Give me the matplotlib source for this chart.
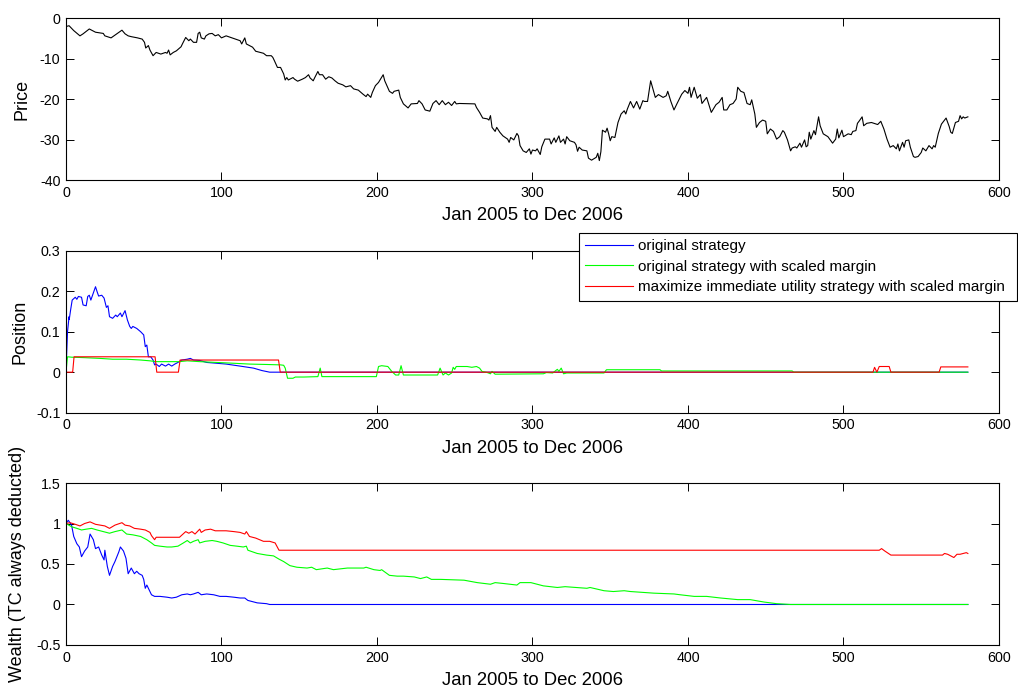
import matplotlib
matplotlib.use("Agg")
import matplotlib.pyplot as plt

plt.rcParams['font.family'] = ['Liberation Sans', 'DejaVu Sans']

# x axis: trading days
x_ticks = [0, 100, 200, 300, 400, 500, 600]
x_label = 'Jan 2005 to Dec 2006'

# --- Price panel ---
price_x = [0, 2, 5, 9, 11, 15, 19, 24, 25, 29, 32, 36, 38, 40, 42, 46, 49, 50.5, 51.3, 53,
           54, 56, 58, 61, 64, 65, 66, 67, 69, 71, 74, 75, 77, 79, 80, 82, 84, 85, 86, 87,
           89, 90, 92, 94, 96, 98, 100, 103, 106, 109, 112, 113, 115, 116, 118, 120, 122, 125, 127, 129,
           132, 133, 134, 136, 138, 139, 140, 141, 142, 143, 146, 147, 149, 152, 154, 156, 157, 159, 160, 162,
           163, 165, 167, 169, 171, 173, 175, 178, 180, 183, 185, 188, 191, 193, 194, 196, 197, 199, 201, 204,
           205, 208, 210, 211, 214, 215, 217, 220, 222, 226, 227, 229, 231, 234, 236, 238, 240, 242, 244, 246,
           248, 250, 251, 253, 263, 264, 266, 268, 271, 272, 273, 274, 276, 277, 279, 281, 284, 285, 286, 288,
           290, 291, 292, 294, 296, 298, 299, 300, 302, 303, 305, 306, 308, 311, 312, 314, 315, 317, 318, 320,
           321, 322, 324, 327, 328, 329, 330, 332, 335, 336, 338, 341, 342, 343, 344, 345, 347, 348, 349, 350,
           351, 353, 355, 357, 359, 360, 361, 363, 365, 367, 369, 371, 372, 374, 375, 376, 379, 381, 384, 386,
           387, 389, 391, 393, 396, 398, 400, 401, 402, 404, 406, 408, 409, 412, 415, 418, 420, 422, 423, 425,
           427, 429, 431, 432, 434, 436, 438, 440, 441, 443, 444, 446, 448, 450, 451, 453, 455, 457, 459, 461,
           462, 464, 466, 467, 469, 470, 472, 473, 475, 476, 477, 478, 479, 481, 482, 484, 485, 487, 490, 493,
           495, 496, 497, 499, 500, 503, 505, 506, 508, 509, 510, 512, 513, 515, 518, 522, 524, 526, 528, 530,
           532, 534, 535, 536, 538, 539, 540, 542, 543, 545, 546, 548, 550, 551, 553, 555, 557, 558, 559, 561,
           563, 565, 566, 568, 569, 570, 572, 574, 575, 576, 577, 578, 580]
price_y = [-2.1, -1.9, -3.1, -4.4, -3.9, -2.7, -3.5, -3.8, -4.4, -4.9, -4.1, -3.0, -3.9, -4.4, -4.6, -4.9, -5.2, -6.0, -7.4, -6.8,
           -7.9, -9.3, -8.5, -8.9, -8.5, -8.7, -7.9, -9.1, -8.5, -8.1, -7.1, -6.3, -4.8, -5.6, -5.2, -6.0, -6.0, -3.8, -3.5, -4.9,
           -5.2, -4.4, -3.9, -3.8, -4.4, -4.1, -4.9, -4.4, -4.8, -5.2, -5.6, -6.4, -4.9, -6.4, -6.8, -7.2, -8.2, -8.5, -8.7, -9.3,
           -9.3, -9.7, -10.5, -12.2, -12.2, -13.0, -13.8, -15.3, -14.7, -15.3, -14.7, -15.1, -15.6, -15.1, -14.7, -14.0, -14.8, -15.5, -14.7, -13.2,
           -14.0, -14.0, -15.1, -14.5, -14.8, -15.5, -16.1, -16.5, -17.0, -16.7, -17.5, -17.8, -18.8, -19.4, -18.8, -19.6, -18.4, -16.7, -15.9, -14.0,
           -15.5, -18.1, -18.6, -18.1, -17.8, -19.6, -21.2, -22.2, -21.2, -21.1, -20.4, -21.2, -22.7, -23.0, -21.1, -20.4, -21.4, -20.4, -21.4, -20.8,
           -21.6, -20.6, -21.2, -21.1, -21.2, -22.1, -23.3, -24.7, -24.9, -25.2, -24.1, -27.0, -28.0, -27.0, -28.2, -29.1, -29.9, -30.7, -29.5, -30.1,
           -28.5, -29.1, -31.5, -32.8, -33.2, -32.3, -33.6, -32.6, -32.8, -32.3, -33.7, -31.8, -29.9, -29.9, -31.1, -29.6, -30.7, -29.1, -30.7, -29.9,
           -31.1, -29.3, -30.3, -30.7, -31.3, -32.9, -31.9, -32.6, -32.8, -34.6, -35.1, -34.4, -33.4, -35.2, -33.0, -27.7, -28.2, -27.2, -28.6, -30.3,
           -29.3, -29.5, -25.8, -23.7, -22.9, -23.7, -22.5, -20.6, -22.2, -20.6, -22.5, -20.4, -20.6, -20.6, -18.0, -15.5, -19.6, -18.9, -19.6, -19.2,
           -18.1, -20.6, -22.7, -21.1, -18.8, -17.9, -18.6, -17.1, -19.6, -17.1, -19.8, -18.9, -21.1, -19.6, -23.3, -21.4, -20.8, -19.6, -22.7, -22.7,
           -21.4, -21.1, -20.0, -17.1, -18.1, -18.4, -21.1, -21.4, -20.2, -23.7, -27.0, -25.8, -25.2, -25.5, -28.6, -27.4, -28.0, -29.9, -29.3, -27.8,
           -28.2, -30.1, -32.8, -32.1, -31.8, -32.1, -30.9, -31.9, -30.1, -31.8, -31.5, -28.2, -29.9, -27.8, -28.8, -24.4, -26.6, -28.6, -29.3, -30.9,
           -29.9, -27.4, -29.6, -27.7, -29.3, -28.6, -28.8, -28.0, -27.8, -26.0, -25.5, -24.4, -26.6, -26.0, -25.8, -26.3, -25.5, -27.4, -29.9, -31.9,
           -31.5, -32.3, -31.1, -32.8, -30.7, -31.9, -30.3, -30.1, -31.9, -34.2, -34.4, -34.2, -33.2, -32.1, -32.8, -31.5, -32.3, -31.5, -31.9, -28.5,
           -26.2, -25.2, -24.7, -26.8, -28.2, -28.5, -25.8, -25.5, -24.1, -24.9, -24.4, -24.7, -24.4]
price_yticks = [-40, -30, -20, -10, 0]

# --- Position panel ---
labels = ['original strategy',
          'original strategy with scaled margin',
          'maximize immediate utility strategy with scaled margin']
colors = ['#0000ff', '#00ff00', '#ff0000']

pos_blue_x = [0, 1, 2, 2.1, 3, 4, 6, 7, 8, 10, 11, 13, 14, 15, 16, 19, 20, 21, 23, 24.5,
              26, 27, 28, 30, 32, 33, 35, 36, 38, 39.5, 41, 42, 43, 45.5, 48, 50, 51, 52, 53, 54.5,
              56, 57, 58, 60, 61.5, 64, 66, 68, 70, 72, 74.5, 78, 80, 82, 86, 90.5, 97, 103, 112, 120.6,
              126, 131, 137, 580]
pos_blue_y = [0, 0.10, 0.137, 0.13, 0.154, 0.178, 0.185, 0.18, 0.187, 0.185, 0.166, 0.164, 0.187, 0.19, 0.178, 0.211, 0.199, 0.188, 0.19, 0.183,
              0.16, 0.164, 0.137, 0.133, 0.141, 0.137, 0.146, 0.137, 0.152, 0.129, 0.113, 0.108, 0.113, 0.108, 0.10, 0.092, 0.063, 0.067, 0.038, 0.038,
              0.03, 0.018, 0.02, 0.014, 0.02, 0.015, 0.02, 0.015, 0.02, 0.024, 0.03, 0.032, 0.034, 0.03, 0.029, 0.024, 0.022, 0.02, 0.015, 0.01,
              0.004, 0.0, 0, 0]

pos_green_x = [0, 1, 3.6, 11, 22, 30, 39, 48, 54, 58, 73, 78, 86, 97, 108, 118, 129, 138, 140, 141,
               142.5, 146, 147.5, 153, 162, 163.5, 164.6, 199.6, 201, 203, 207, 209.5, 212, 214, 215.5, 217, 239, 240.6, 242.5, 244,
               246, 248, 249, 250, 251, 258, 261, 264, 266, 267.5, 271, 273, 274, 276, 307, 309, 313, 316, 317, 318.5,
               320, 322, 346, 347.6, 382, 383, 467, 468, 580]
pos_green_y = [0, 0.038, 0.037, 0.036, 0.034, 0.032, 0.032, 0.03, 0.028, 0.026, 0.026, 0.028, 0.026, 0.024, 0.022, 0.02, 0.019, 0.018, 0.017, 0.01,
               -0.015, -0.015, -0.012, -0.012, -0.011, 0.01, -0.011, -0.011, 0.014, 0.016, 0.014, 0.002, -0.007, -0.007, 0.016, -0.007, -0.007, 0.01, -0.007, -0.002,
               -0.007, -0.002, 0.012, 0.007, 0.014, 0.014, 0.012, 0.014, 0.01, 0.002, -0.001, -0.004, 0.002, -0.005, -0.004, -0.001, -0.002, 0.007, 0.002, 0.01,
               -0.004, -0.002, -0.002, 0.006, 0.006, 0.003, 0.003, 0, 0]

pos_red_x = [0, 4.3, 5.2, 57.3, 58.4, 72.3, 73.4, 136.7, 137.8, 519, 520, 521.5, 523, 529.4, 530.5, 561.5, 562.6, 580]
pos_red_y = [0, 0, 0.038, 0.038, 0, 0, 0.030, 0.030, 0, 0, 0.012, 0, 0.014, 0.014, 0, 0, 0.013, 0.013]
pos_yticks = [-0.1, 0, 0.1, 0.2, 0.3]
pos_yticklabels = ['-0.1', '0', '0.1', '0.2', '0.3']

# --- Wealth panel ---
w_blue_x = [0, 1.5, 3.6, 5, 7, 8.6, 10, 12, 14, 15.5, 17.6, 19, 21, 23, 24.5, 25, 26.6, 28, 30, 31.5,
            34, 35, 37, 38.6, 40, 42, 44, 45.5, 47, 49, 50, 51, 52, 54, 55, 57, 60.5, 65, 68, 71,
            74.5, 78, 80, 82, 85, 87, 90.5, 95, 99, 103, 108, 112, 115, 117, 123, 129, 131, 580]
w_blue_y = [1.0, 1.04, 0.98, 0.84, 0.75, 0.71, 0.59, 0.66, 0.71, 0.87, 0.80, 0.69, 0.71, 0.61, 0.55, 0.67, 0.47, 0.36, 0.47, 0.53,
            0.65, 0.71, 0.66, 0.57, 0.38, 0.45, 0.38, 0.41, 0.38, 0.36, 0.31, 0.20, 0.24, 0.16, 0.12, 0.10, 0.10, 0.09, 0.08, 0.09,
            0.12, 0.13, 0.12, 0.13, 0.15, 0.12, 0.13, 0.12, 0.10, 0.10, 0.09, 0.08, 0.08, 0.05, 0.02, 0.01, 0, 0]

w_green_x = [0, 3.6, 7, 10, 13, 16.5, 20, 24, 28, 31.5, 36, 39, 43, 48, 52, 55, 57, 60.5, 65, 68,
             72, 75.5, 78, 80, 82, 85, 86, 89.5, 94, 97, 101, 105.6, 110, 114, 116, 117, 123, 129, 133.5, 137,
             140, 144, 148.5, 155, 158, 161, 168, 172, 181, 191.5, 193, 198, 202, 203, 208, 213, 217, 224, 228, 232,
             235, 241, 256, 264.5, 273, 276, 281, 290, 292, 299, 307, 316, 321, 335, 337, 346, 352, 359, 363, 378,
             391, 395, 404, 412, 421, 432, 440, 449, 457, 466, 580]
w_green_y = [1.0, 0.96, 0.94, 0.92, 0.93, 0.94, 0.92, 0.90, 0.88, 0.90, 0.92, 0.87, 0.86, 0.84, 0.80, 0.76, 0.73, 0.72, 0.71, 0.71,
             0.72, 0.76, 0.79, 0.76, 0.78, 0.80, 0.76, 0.78, 0.79, 0.78, 0.76, 0.73, 0.72, 0.71, 0.72, 0.67, 0.63, 0.61, 0.60, 0.56,
             0.53, 0.48, 0.46, 0.45, 0.46, 0.43, 0.45, 0.43, 0.45, 0.45, 0.46, 0.43, 0.42, 0.43, 0.36, 0.35, 0.35, 0.34, 0.32, 0.34,
             0.31, 0.31, 0.30, 0.27, 0.25, 0.27, 0.26, 0.24, 0.27, 0.27, 0.23, 0.21, 0.22, 0.20, 0.21, 0.17, 0.16, 0.17, 0.16, 0.14,
             0.13, 0.12, 0.10, 0.10, 0.08, 0.06, 0.06, 0.03, 0.01, 0.0, 0.0]

w_red_x = [0, 2.6, 6, 9, 12, 15.5, 19, 22, 25, 28, 31.5, 36, 38, 41, 44, 48, 51, 54, 55, 57,
           58, 73, 77, 79, 81, 83, 86, 87, 89.5, 93, 96, 100, 103, 108, 112, 115, 116, 118, 122, 127,
           131, 134.5, 137, 523, 524.5, 526.6, 530.5, 563.7, 565, 567, 569, 571, 573, 575, 577, 579, 580]
w_red_y = [1.0, 1.01, 0.99, 0.97, 1.0, 1.02, 0.99, 0.98, 0.97, 0.94, 0.98, 1.01, 0.98, 0.97, 0.94, 0.93, 0.92, 0.89, 0.85, 0.80,
           0.83, 0.83, 0.90, 0.88, 0.90, 0.87, 0.93, 0.89, 0.92, 0.93, 0.91, 0.91, 0.91, 0.90, 0.89, 0.87, 0.90, 0.84, 0.82, 0.78,
           0.78, 0.76, 0.67, 0.67, 0.69, 0.66, 0.61, 0.61, 0.63, 0.62, 0.60, 0.58, 0.62, 0.62, 0.63, 0.64, 0.63]
w_yticks = [-0.5, 0, 0.5, 1, 1.5]
w_yticklabels = ['-0.5', '0', '0.5', '1', '1.5']

fig = plt.figure(figsize=(10.18, 6.91), dpi=100)
ax1 = fig.add_axes([0.0648, 0.7395, 0.9165, 0.2344])
ax2 = fig.add_axes([0.0648, 0.4028, 0.9165, 0.2344])
ax3 = fig.add_axes([0.0648, 0.0666, 0.9165, 0.2344])

lw = 0.8
ax1.plot(price_x, price_y, color='black', lw=lw)
ax1.set_ylim(-40, 0)
ax1.set_yticks(price_yticks)
ax1.set_yticklabels([str(v) for v in price_yticks])
ax1.set_ylabel('Price', fontsize=13)

ax2.plot(pos_blue_x, pos_blue_y, color=colors[0], lw=lw, label=labels[0])
ax2.plot(pos_green_x, pos_green_y, color=colors[1], lw=lw, label=labels[1])
ax2.plot(pos_red_x, pos_red_y, color=colors[2], lw=lw, label=labels[2])
ax2.set_ylim(-0.1, 0.3)
ax2.set_yticks(pos_yticks)
ax2.set_yticklabels(pos_yticklabels)
ax2.set_ylabel('Position', fontsize=13)

ax3.plot(w_blue_x, w_blue_y, color=colors[0], lw=lw)
ax3.plot(w_green_x, w_green_y, color=colors[1], lw=lw)
ax3.plot(w_red_x, w_red_y, color=colors[2], lw=lw)
ax3.set_ylim(-0.5, 1.5)
ax3.set_yticks(w_yticks)
ax3.set_yticklabels(w_yticklabels)
ax3.set_ylabel('Wealth (TC always deducted)', fontsize=13)

for ax in (ax1, ax2, ax3):
    ax.set_xlim(0, 600)
    ax.set_xticks(x_ticks)
    ax.set_xticklabels([str(v) for v in x_ticks])
    ax.set_xlabel(x_label, fontsize=13.3, labelpad=5.5)
    ax.tick_params(direction='in', length=5.5, width=0.7, top=True, right=True,
                   labelsize=10.3, pad=4)
    for s in ax.spines.values():
        s.set_linewidth(0.8)

ax1.yaxis.set_label_coords(-0.038, 0.5)
ax2.yaxis.set_label_coords(-0.040, 0.5)
ax3.yaxis.set_label_coords(-0.043, 0.5)

leg = ax2.legend(loc='upper left', bbox_to_anchor=(0.5688, 0.563, 0.4302, 0.0998),
                 bbox_transform=fig.transFigure, mode='expand', borderaxespad=0,
                 fontsize=11.0, fancybox=False, framealpha=1, edgecolor='black',
                 handlelength=3.1, handletextpad=0.35, borderpad=0.42, labelspacing=0.42)
leg.get_frame().set_linewidth(0.8)

fig.savefig('out.png', dpi=100)
